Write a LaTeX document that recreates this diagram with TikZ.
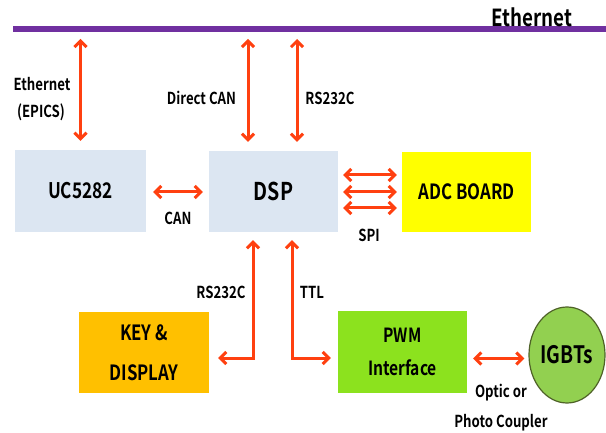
\documentclass[tikz,border=0pt]{standalone}
\usepackage{fontspec}
\setmainfont{Noto Sans CJK KR}[FakeStretch=0.8, BoldFont={Noto Sans CJK KR Bold}]
\usetikzlibrary{arrows.meta,shapes.geometric,calc}
\definecolor{arr}{RGB}{255,64,16}
\definecolor{bus}{RGB}{112,48,160}
\definecolor{boxblue}{RGB}{220,230,242}
\definecolor{keyc}{RGB}{255,192,0}
\definecolor{adcc}{RGB}{255,255,0}
\definecolor{pwmc}{RGB}{140,226,30}
\definecolor{igbtc}{RGB}{146,208,80}
\definecolor{igbtline}{RGB}{79,98,40}
\tikzset{
  blk/.style={rectangle, inner sep=0pt, minimum width=130pt, minimum height=81pt, align=center,
    font=\bfseries\fontsize{21}{40}\selectfont},
  tipb/.tip={Straight Barb[length=6pt,width=12pt]},
  link/.style={draw=arr, line width=3pt, line join=miter, tipb-tipb},
  lbl/.style={inner sep=0pt, font=\bfseries\fontsize{16.5}{18}\selectfont}
}
\begin{document}
\begin{tikzpicture}[x=1pt,y=-1pt]
\useasboundingbox (0,0) rectangle (606,433);
% Ethernet bus
\coordinate (busL) at (13,29.5);
\coordinate (busR) at (606,29.5);
\coordinate (bustip) at (0,39);
\draw[bus, line width=6pt] (busL) -- (busR);
\node[inner sep=0pt, anchor=base, font=\bfseries\fontsize{23.5}{24}\selectfont] (ethtitle) at (532,27) {Ethernet};

% blocks
\node[blk, fill=boxblue, minimum width=131pt, minimum height=82pt, font=\bfseries\fontsize{21.5}{22}\selectfont] (uc) at (80.5,191) {UC5282};
\node[blk, fill=boxblue, minimum width=129pt, font=\bfseries\fontsize{24.5}{25}\selectfont] (dsp) at (273.5,191.5) {DSP};
\node[blk, fill=adcc, minimum width=129pt, minimum height=80pt, font=\bfseries\fontsize{21}{22}\selectfont] (adc) at (466.5,192) {ADC BOARD};
\node[blk, fill=keyc] (key) at (144,352.5) {KEY \&\\DISPLAY};
\node[blk, fill=pwmc, minimum width=129pt, font=\bfseries\fontsize{19.5}{33}\selectfont] (pwm) at (402.5,352) {PWM\\Interface};
\node[ellipse, fill=igbtc, draw=igbtline, line width=1.2pt, minimum width=76pt, minimum height=96pt, inner sep=0pt,
  font=\bfseries\fontsize{24}{24}\selectfont] (igbt) at (567,355) {IGBTs};

% connectors to bus
\draw[link] ([yshift=9pt]uc.north) -- (uc.north |- bustip);
\draw[link] ($(dsp.north)+(-25.5,-9)$) -- ($(dsp.north |- bustip)+(-25.5,0)$);
\draw[link] ($(dsp.north)+(23.5,-9)$) -- ($(dsp.north |- bustip)+(23.5,0)$);

% CAN
\draw[link] ($(uc.east)+(7,1)$) -- ($(uc.east -| dsp.west)+(-6,1)$);
% SPI
\draw[link] ($(dsp.east)+(5,-16.5)$) -- ($(dsp.east -| adc.west)+(-5,-16.5)$);
\draw[link] ($(dsp.east)+(5,0.5)$) -- ($(dsp.east -| adc.west)+(-5,0.5)$);
\draw[link] ($(dsp.east)+(5,16.5)$) -- ($(dsp.east -| adc.west)+(-5,16.5)$);
% RS232C and TTL
\draw[link] ($(dsp.south)+(-20.5,8)$) |- ($(key.east)+(9,5.5)$);
\draw[link] ($(dsp.south)+(18.5,8)$) |- ($(pwm.west)+(-7,6)$);
% PWM - IGBTs
\draw[link] ($(pwm.east)+(6,6.5)$) -- ($(pwm.east -| igbt.west)+(-4,6.5)$);

% labels
\node[lbl] (l1) at (42,84) {Ethernet};
\node[lbl] (l2) at (41,112) {(EPICS)};
\node[lbl] (l3) at (201.5,98) {Direct CAN};
\node[lbl] (l4) at (330,98) {RS232C};
\node[lbl] (l5) at (178,218) {CAN};
\node[lbl] (l6) at (369,235) {SPI};
\node[lbl] (l7) at (221,292) {RS232C};
\node[lbl] (l8) at (312,292) {TTL};
\node[lbl] (l9) at (501,393) {Optic or};
\node[lbl] (l10) at (501,423) {Photo Coupler};
\end{tikzpicture}
\end{document}
